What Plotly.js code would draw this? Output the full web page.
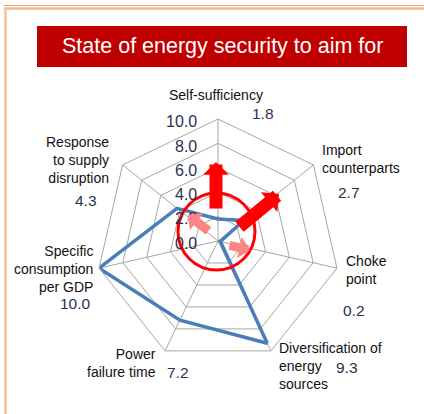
<!DOCTYPE html>
<html>
<head>
<meta charset="utf-8">
<script src="https://cdn.plot.ly/plotly-3.0.1.min.js"></script>
<style>html,body{margin:0;padding:0;background:#fff;}#chart{width:424px;height:414px;}</style>
</head>
<body>
<div id="chart"></div>
<script>
// ---- data ----
const categories = ["Self-sufficiency", "Import counterparts", "Choke point", "Diversification of energy sources", "Power failure time", "Specific consumption per GDP", "Response to supply disruption"];
const labelLines = ["Self-sufficiency", "Import<br>counterparts", "Choke<br>point", "Diversification of<br>energy<br>sources", "Power<br>failure time", "Specific<br>consumption<br>per GDP", "Response<br>to supply<br>disruption"];
const values = [1.8, 2.7, 0.2, 9.3, 7.2, 10.0, 4.3];
const radialTicks = [0, 2, 4, 6, 8, 10];
const titleText = "State of energy security to aim for";

// ---- layout helpers (pixel -> paper) ----
const W = 424, H = 414;
const px = x => x / W;
const py = y => 1 - y / H;
const CY = 243, RSCALE = 12.1, TICK_RIGHT = 199;

// label placement (pixels) for each category name and its value
const labelPos = [
  {x: 216, y: 95, xa: 'center'},
  {x: 320, y: 159, xa: 'left'},
  {x: 344, y: 270, xa: 'left'},
  {x: 277, y: 366, xa: 'left'},
  {x: 158, y: 363, xa: 'right'},
  {x: 95, y: 269, xa: 'right'},
  {x: 111, y: 160, xa: 'right'}
];
const valuePos = [
  {x: 263, y: 113, xa: 'center'},
  {x: 349, y: 192, xa: 'center'},
  {x: 354, y: 310, xa: 'center'},
  {x: 347, y: 367, xa: 'center'},
  {x: 178, y: 372, xa: 'center'},
  {x: 75, y: 303, xa: 'center'},
  {x: 86, y: 201, xa: 'center'}
];

const annotations = [];
categories.forEach((c, i) => {
  annotations.push({
    xref: 'paper', yref: 'paper', x: px(labelPos[i].x), y: py(labelPos[i].y),
    xanchor: labelPos[i].xa, yanchor: 'middle', align: labelPos[i].xa,
    text: labelLines[i], showarrow: false,
    font: {family: 'Arial, Liberation Sans, sans-serif', size: 14, color: '#111111'}
  });
  annotations.push({
    xref: 'paper', yref: 'paper', x: px(valuePos[i].x), y: py(valuePos[i].y),
    xanchor: valuePos[i].xa, yanchor: 'middle',
    text: values[i].toFixed(1), showarrow: false,
    font: {family: 'Arial, Liberation Sans, sans-serif', size: 15.5, color: '#2a3150'}
  });
});

// radial scale labels along the top spoke
radialTicks.forEach(v => {
  annotations.push({
    xref: 'paper', yref: 'paper', x: px(TICK_RIGHT), y: py(CY - v * RSCALE),
    xanchor: 'right', yanchor: 'middle', text: v.toFixed(1), showarrow: false,
    font: {family: 'Arial, Liberation Sans, sans-serif', size: 16, color: '#2a3150'}
  });
});

// title
annotations.push({
  xref: 'paper', yref: 'paper', x: px(222), y: py(46), xanchor: 'center', yanchor: 'middle',
  text: titleText, showarrow: false,
  font: {family: 'Arial, Liberation Sans, sans-serif', size: 21.5, color: '#ffffff'}
});

// decorative arrows
function arrow(tx, ty, fx, fy, w, color, size) {
  return {xref: 'paper', yref: 'paper', x: px(tx), y: py(ty), ax: fx - tx, ay: fy - ty,
    text: '', showarrow: true, arrowhead: 1, arrowsize: size, arrowwidth: w, arrowcolor: color};
}
annotations.push(arrow(216, 162, 216, 210, 13, '#ff0000', 0.33));
annotations.push(arrow(279, 194, 238, 228, 13, '#ff0000', 0.33));
annotations.push(arrow(188, 215, 210, 232, 9, '#ff8585', 0.4));
annotations.push(arrow(250, 250, 228, 245, 9, '#ff8585', 0.4));

const shapes = [
  // title box
  {type: 'rect', xref: 'paper', yref: 'paper', x0: px(37), x1: px(407), y0: py(67), y1: py(26),
   fillcolor: '#c00000', line: {width: 0}, layer: 'below'},
  // frame lines
  {type: 'line', xref: 'paper', yref: 'paper', x0: px(4), x1: px(424), y0: py(5.5), y1: py(5.5), line: {color: '#e9a06f', width: 1}},
  {type: 'line', xref: 'paper', yref: 'paper', x0: px(4), x1: px(424), y0: py(8.5), y1: py(8.5), line: {color: '#f5b98a', width: 2.5}},
  {type: 'line', xref: 'paper', yref: 'paper', x0: px(5.5), x1: px(5.5), y0: py(8), y1: py(414), line: {color: '#f7bf8f', width: 2.5}},
  // red circle
  {type: 'circle', xref: 'paper', yref: 'paper', x0: px(178), x1: px(255), y0: py(270), y1: py(193),
   line: {color: '#ff0000', width: 3}}
];

const trace = {
  type: 'scatterpolar',
  r: values.concat([values[0]]),
  theta: categories.concat([categories[0]]),
  mode: 'lines',
  line: {color: '#4a7ebb', width: 3.5},
  hoverinfo: 'skip'
};

const layout = {
  width: W, height: H,
  margin: {l: 0, r: 0, t: 0, b: 0},
  paper_bgcolor: '#ffffff',
  showlegend: false,
  polar: {
    domain: {x: [px(96), px(340)], y: [py(363), py(119)]},
    gridshape: 'linear',
    bgcolor: 'rgba(0,0,0,0)',
    angularaxis: {
      direction: 'clockwise', rotation: 90,
      showticklabels: false, ticks: '',
      showline: true, linecolor: '#a6a6a6', linewidth: 1,
      showgrid: true, gridcolor: '#a6a6a6', gridwidth: 1
    },
    radialaxis: {
      range: [0, 10], tickvals: radialTicks,
      angle: 90, showticklabels: false,
      showline: false, ticks: '',
      showgrid: true, gridcolor: '#a6a6a6', gridwidth: 1
    }
  },
  shapes: shapes,
  annotations: annotations
};

Plotly.newPlot('chart', [trace], layout, {displayModeBar: false, staticPlot: true});
</script>
</body>
</html>
